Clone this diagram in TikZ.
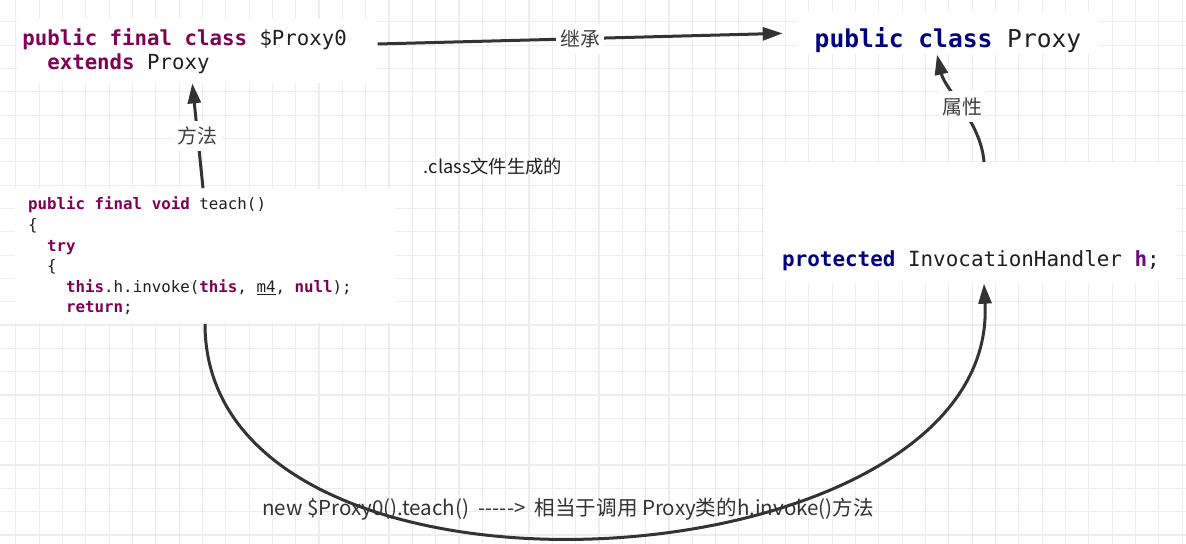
\documentclass[tikz,border=0pt]{standalone}
\usepackage{fontspec}
\usepackage{xcolor}
\usepackage{tikz}
\usetikzlibrary{arrows.meta}
\setmonofont{DejaVu Sans Mono}
\newfontfamily\cjk{Noto Sans CJK SC}
\definecolor{cgrid}{HTML}{EDEDED}
\definecolor{ckeyword}{HTML}{7F0055}
\definecolor{cidea}{HTML}{000080}
\definecolor{cfield}{HTML}{660E7A}
\definecolor{ccode}{HTML}{1F1F1F}
\definecolor{carrow}{HTML}{333333}
\definecolor{clabel}{HTML}{404040}
\newcommand{\jkw}[1]{\textcolor{ckeyword}{\textbf{#1}}}
\newcommand{\ikw}[1]{\textcolor{cidea}{\textbf{#1}}}
\newcommand{\codefont}[2]{\ttfamily\fontsize{#1}{#2}\selectfont}
\newcommand{\fixsp}{\spaceskip=\fontdimen2\font\relax}
\newcommand{\dashrow}{-\kern0pt-\kern0pt-\kern0pt-\kern0pt-}

\begin{document}
\begin{tikzpicture}[
    x=0.02cm, y=-0.02cm,
    gridline/.style={draw=cgrid, line width=0.6pt},
    codebox/.style={fill=white, text=ccode, align=left},
    lbl/.style={font=\cjk\fontsize{11.3pt}{13pt}\selectfont, text=clabel, fill=white,
                inner xsep=0.08cm, inner ysep=0.12cm},
    arr/.style={-{Triangle[length=0.4cm,width=0.26cm]}, line width=0.06cm, draw=carrow}
]
\useasboundingbox[fill=white] (0,0) rectangle (1186,544);
\foreach \i in {0,...,51} \draw[gridline] ({-7.6+23.33*\i},0) -- ({-7.6+23.33*\i},544);
\foreach \j in {0,...,23} \draw[gridline] (0,{-1.6+23.33*\j}) -- (1186,{-1.6+23.33*\j});

\node[codebox, anchor=west, text width=7.0cm, inner xsep=0.1cm, minimum height=1.28cm,
      font=\codefont{11.8pt}{13.6pt}] (proxyzero) at (17,51)
    {\fixsp\jkw{public final class} \$Proxy0\\
     \phantom{xx}\jkw{extends} Proxy};
\node[codebox, anchor=north, minimum width=6cm, inner ysep=0pt, text height=0.7cm, text depth=0.14cm,
      font=\codefont{14pt}{16pt}] (proxy) at (948,12)
    {\ikw{public class} Proxy};
\node[codebox, text width=7.08cm, inner xsep=0.26cm, minimum height=2.7cm,
      font=\codefont{9pt}{11.7pt}] (teach) at (205,256)
    {\fixsp\jkw{public final void} teach()\\
     \{\\
     \phantom{xx}\jkw{try}\\
     \phantom{xx}\{\\
     \phantom{xxxx}\jkw{this}.h.invoke(\jkw{this}, \underline{m4}, \jkw{null});\\
     \phantom{xxxx}\jkw{return};};
\node[codebox, anchor=north, minimum width=8.26cm, inner ysep=0pt, text height=2.08cm, text depth=0.34cm,
      font=\codefont{11.9pt}{14pt}] (field) at (971,162)
    {\ikw{protected} InvocationHandler \textcolor{cfield}{\textbf{h}};};
\node[font=\cjk\fontsize{10.4pt}{12pt}\selectfont, text=ccode] (gen) at (493,167) {.class文件生成的};
\node[font=\cjk\fontsize{11.7pt}{14pt}\selectfont, text=carrow] (note) at (568,509)
    {new \$Proxy0().teach()\ \ \dashrow>\ \ 相当于调用 Proxy类的h.invoke()方法};

\draw[arr] ([yshift=0.14cm]proxyzero.east) -- node[lbl] {继承} ([xshift=-0.3cm]proxy.west);
\draw[arr] ([xshift=-0.04cm]teach.north) -- node[lbl] {方法} ([xshift=-0.1cm]proxyzero.south);
\draw[arr] ([xshift=0.26cm]field.north) .. controls +(-3,-40) and +(8,35) .. node[lbl] {属性} ([xshift=-0.22cm]proxy.south);
\draw[arr] (teach.south) .. controls +(0,315) and +(16,305) .. ([xshift=0.26cm]field.south);
\end{tikzpicture}
\end{document}
